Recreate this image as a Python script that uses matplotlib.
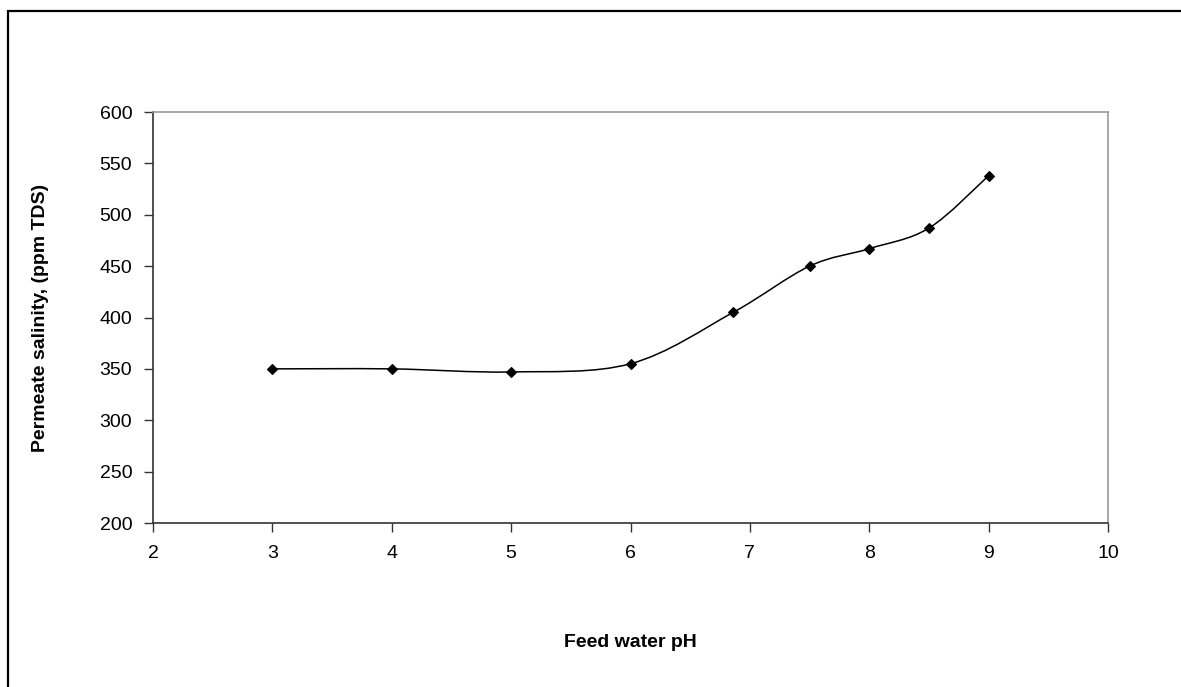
# Permeate salinity vs feed water pH
import matplotlib.pyplot as plt
import numpy as np
from matplotlib.path import Path
from matplotlib.patches import PathPatch, Rectangle

#### -------- データ -------- ####
ph = [3, 4, 5, 6, 6.86, 7.5, 8, 8.5, 9]
salinity = [350, 350, 347, 355, 405, 450, 467, 487, 538]

x_ticks = [2, 3, 4, 5, 6, 7, 8, 9, 10]
y_ticks = [200, 250, 300, 350, 400, 450, 500, 550, 600]

#### -------- グラフ設定 -------- ####
plt.rcParams["font.family"] = ["Liberation Sans", "DejaVu Sans"]
plt.rcParams["font.size"] = 14
plt.rcParams["xtick.direction"] = "out"
plt.rcParams["ytick.direction"] = "out"

W, H = 1181, 687
fig = plt.figure(figsize=(W / 100, H / 100), dpi=100)
ax = fig.add_axes([153 / W, 1 - 523 / H, (1108 - 153) / W, (523 - 112) / H])

# 外枠 (右と下は画像外)
fig.patches.append(
    Rectangle((8 / W, -0.1), 1.2, (1 - 11 / H) + 0.1,
              transform=fig.transFigure, fill=False, lw=1.6, ec="black")
)

#### -------- 平滑線 (Excel風のベジェ) -------- ####
pts = np.column_stack([ph, salinity]).astype(float)
n = len(pts)
verts = [pts[0]]
codes = [Path.MOVETO]
for i in range(n - 1):
    p_prev = pts[i - 1] if i > 0 else pts[i]
    p_next2 = pts[i + 2] if i + 2 < n else pts[i + 1]
    c1 = pts[i] + (pts[i + 1] - p_prev) / 6
    c2 = pts[i + 1] - (p_next2 - pts[i]) / 6
    verts += [c1, c2, pts[i + 1]]
    codes += [Path.CURVE4] * 3
ax.add_patch(PathPatch(Path(verts, codes), fill=False, ec="black", lw=1.1))

ax.plot(ph, salinity, linestyle="none", marker="D", ms=5,
        color="black", mew=0.8)

#### -------- 軸 -------- ####
ax.set_xlim(2, 10)
ax.set_ylim(200, 600)
ax.set_xticks(x_ticks)
ax.set_yticks(y_ticks)
ax.tick_params(axis="x", length=6.5, width=1, color="#333333", pad=9)
ax.tick_params(axis="y", length=6.5, width=1, color="#333333", pad=8.5)

for s in ["left", "bottom"]:
    ax.spines[s].set_color("#333333")
    ax.spines[s].set_linewidth(1.2)
for s in ["top", "right"]:
    ax.spines[s].set_color("#999999")
    ax.spines[s].set_linewidth(1.2)

ax.set_xlabel("Feed water pH", fontweight="bold")
ax.set_ylabel("Permeate salinity, (ppm TDS)", fontweight="bold")
ax.xaxis.set_label_coords(0.5, -0.27)
ax.yaxis.set_label_coords(-0.109, 0.5)

fig.savefig("out.png", dpi=100)
